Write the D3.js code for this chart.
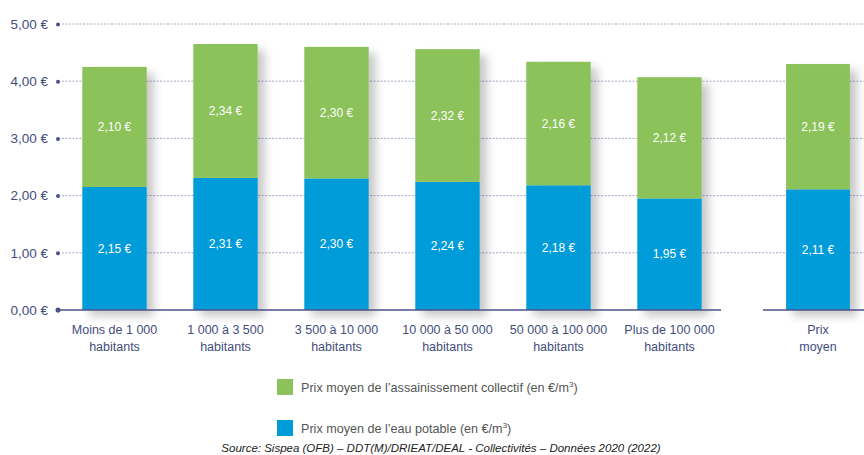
<!DOCTYPE html>
<html>
<head>
<meta charset="utf-8">
<script src="https://cdn.jsdelivr.net/npm/d3@7"></script>
<style>
  body { margin: 0; background: #fff; }
  text { font-family: "Liberation Sans", Arial, sans-serif; }
</style>
</head>
<body>
<script>
// categories (two text lines each)
var categories = ["Moins de 1 000|habitants", "1 000 à 3 500|habitants", "3 500 à 10 000|habitants",
                  "10 000 à 50 000|habitants", "50 000 à 100 000|habitants", "Plus de 100 000|habitants"];
var avgCategory = ["Prix|moyen"];

// series values (€/m³)
var eauPotable = [2.15, 2.31, 2.30, 2.24, 2.18, 1.95];
var assainissement = [2.10, 2.34, 2.30, 2.32, 2.16, 2.12];
var eauPotableMoyen = [2.11];
var assainissementMoyen = [2.19];

var tickValues = [0, 1, 2, 3, 4, 5];
var tickLabels = ["0,00 €", "1,00 €", "2,00 €", "3,00 €", "4,00 €", "5,00 €"];

var legendLabels = ["Prix moyen de l’assainissement collectif (en €/m", "Prix moyen de l’eau potable (en €/m"];
var sourceText = "Source: Sispea (OFB) – DDT(M)/DRIEAT/DEAL - Collectivités – Données 2020 (2022)";

var width = 864, height = 455;
var green = "#8bc25a", blue = "#009bd9", axisCol = "#4b5088", textCol = "#434d7c";

var svg = d3.select("body").append("svg")
    .attr("width", width)
    .attr("height", height);

var defs = svg.append("defs");
var f = defs.append("filter").attr("id", "shadow")
    .attr("x", "-20%").attr("y", "-10%").attr("width", "150%").attr("height", "130%");
f.append("feGaussianBlur").attr("in", "SourceAlpha").attr("stdDeviation", 5);
f.append("feOffset").attr("dx", 7).attr("dy", 6).attr("result", "ob");
f.append("feComponentTransfer").append("feFuncA").attr("type", "linear").attr("slope", 0.22);
var fm = f.append("feMerge");
fm.append("feMergeNode");
fm.append("feMergeNode").attr("in", "SourceGraphic");

var y = d3.scaleLinear().domain([0, 5]).range([310, 24]);

var x = d3.scaleBand().domain(categories).range([59, 725]).paddingInner(0.42).paddingOuter(0.21);
var x2 = d3.scaleBand().domain(avgCategory).range([763, 873]).paddingInner(0.42).paddingOuter(0.21);

// gridlines
svg.append("g").selectAll("line")
    .data(tickValues.slice(1))
    .enter().append("line")
    .attr("x1", 62).attr("x2", width)
    .attr("y1", function(d){ return y(d); })
    .attr("y2", function(d){ return y(d); })
    .attr("stroke", "#a4a8c8")
    .attr("stroke-width", 1)
    .attr("stroke-dasharray", "2,1.5");

// y axis labels + dots
var yAxis = d3.axisLeft(y).tickValues(tickValues)
    .tickFormat(function(d, i){ return tickLabels[i]; })
    .tickSize(0).tickPadding(10);
var ya = svg.append("g").attr("transform", "translate(58,0)").call(yAxis);
ya.select(".domain").remove();
ya.selectAll("text").attr("fill", textCol).attr("font-size", 13.5)
    .attr("font-family", "Liberation Sans, Arial, sans-serif");
ya.selectAll(".tick").append("circle").attr("r", 2).attr("fill", axisCol);

function drawBars(data1, data2, cats, scale){
    var g = svg.append("g");
    var bars = g.selectAll("g.bar").data(cats).enter().append("g").attr("class", "bar")
        .attr("filter", "url(#shadow)");
    bars.append("rect")
        .attr("x", function(d){ return scale(d); })
        .attr("width", scale.bandwidth())
        .attr("y", function(d, i){ return y(data1[i]); })
        .attr("height", function(d, i){ return y(0) - y(data1[i]); })
        .attr("fill", blue);
    bars.append("rect")
        .attr("x", function(d){ return scale(d); })
        .attr("width", scale.bandwidth())
        .attr("y", function(d, i){ return y(data1[i] + data2[i]); })
        .attr("height", function(d, i){ return y(data1[i]) - y(data1[i] + data2[i]); })
        .attr("fill", green);
    var fmt = function(v){ return v.toFixed(2).replace(".", ",") + " €"; };
    g.selectAll("text.v1").data(cats).enter().append("text")
        .attr("x", function(d){ return scale(d) + scale.bandwidth() / 2; })
        .attr("y", function(d, i){ return y(data1[i] / 2) + 4; })
        .attr("text-anchor", "middle").attr("fill", "#fff").attr("font-size", 12)
        .text(function(d, i){ return fmt(data1[i]); });
    g.selectAll("text.v2").data(cats).enter().append("text")
        .attr("x", function(d){ return scale(d) + scale.bandwidth() / 2; })
        .attr("y", function(d, i){ return y(data1[i] + data2[i] / 2) + 4; })
        .attr("text-anchor", "middle").attr("fill", "#fff").attr("font-size", 12)
        .text(function(d, i){ return fmt(data2[i]); });
    // category labels
    var lab = g.selectAll("text.cat").data(cats).enter().append("text")
        .attr("text-anchor", "middle").attr("fill", textCol).attr("font-size", 12.5)
        .attr("transform", function(d){ return "translate(" + (scale(d) + scale.bandwidth() / 2) + ",334)"; });
    lab.selectAll("tspan").data(function(d){ return d.split("|"); }).enter().append("tspan")
        .attr("x", 0).attr("dy", function(d, i){ return i ? 17 : 0; })
        .text(function(d){ return d; });
}

drawBars(eauPotable, assainissement, categories, x);
drawBars(eauPotableMoyen, assainissementMoyen, avgCategory, x2);

// baseline axis segments
svg.append("line").attr("x1", 58).attr("x2", 721).attr("y1", y(0)).attr("y2", y(0))
    .attr("stroke", axisCol).attr("stroke-width", 1.5);
svg.append("line").attr("x1", 763).attr("x2", width).attr("y1", y(0)).attr("y2", y(0))
    .attr("stroke", axisCol).attr("stroke-width", 1.5);
svg.append("circle").attr("cx", 58).attr("cy", y(0)).attr("r", 2.5).attr("fill", axisCol);

// legend
var legCols = [green, blue];
var leg = svg.append("g").selectAll("g").data(legendLabels).enter().append("g")
    .attr("transform", function(d, i){ return "translate(277," + (379 + i * 41) + ")"; });
leg.append("rect").attr("width", 16).attr("height", 16).attr("fill", function(d, i){ return legCols[i]; });
var lt = leg.append("text").attr("x", 24).attr("y", 12.5).attr("font-size", 12.6).attr("fill", "#555");
lt.append("tspan").text(function(d){ return d; });
lt.append("tspan").attr("font-size", 8).attr("dy", -5).text("3");
lt.append("tspan").attr("dy", 5).text(")");

// source
svg.append("text").attr("x", 441).attr("y", 452).attr("text-anchor", "middle")
    .attr("font-size", 11.5).attr("font-style", "italic").attr("fill", "#222")
    .text(sourceText);
</script>
</body>
</html>
